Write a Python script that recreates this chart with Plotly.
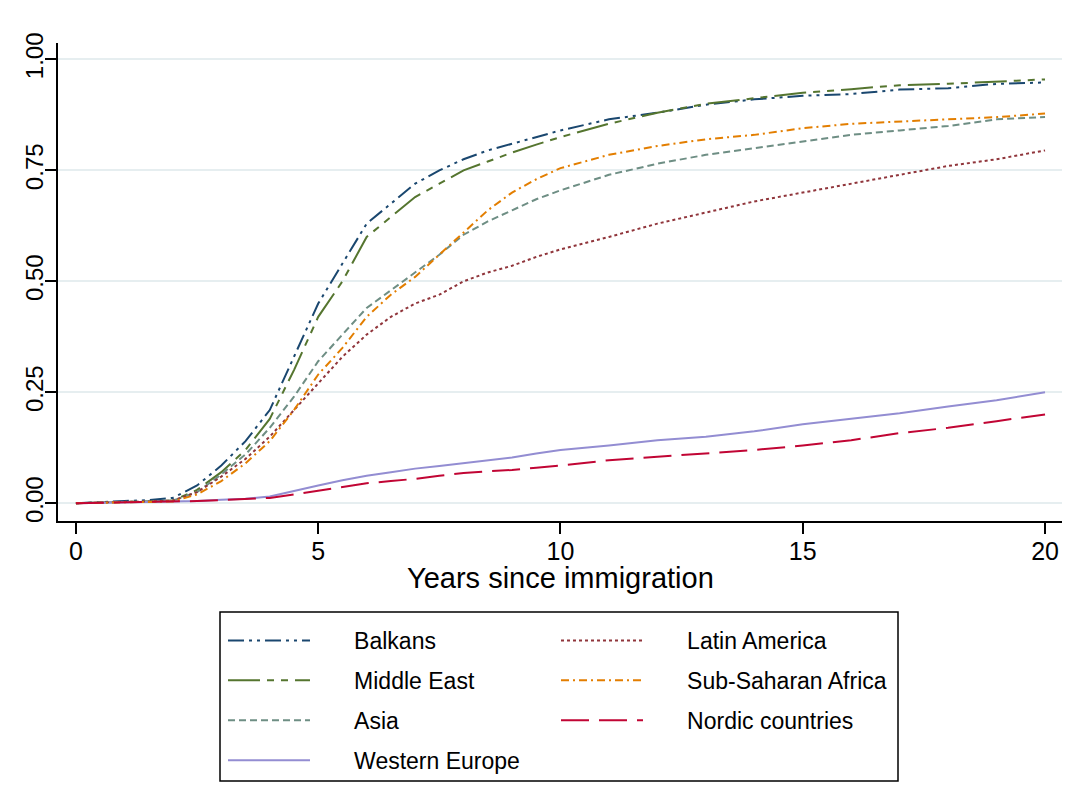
import plotly.graph_objects as go

years = [0, 0.5, 1, 1.5, 2, 2.5, 3, 3.5, 4, 4.5, 5, 5.5, 6, 6.5, 7, 7.5, 8, 8.5, 9, 9.5,
         10, 11, 12, 13, 14, 15, 16, 17, 18, 19, 20]

balkans = [0, 0.003, 0.005, 0.007, 0.012, 0.04, 0.085, 0.14, 0.21, 0.33, 0.45, 0.54, 0.63, 0.675,
           0.72, 0.75, 0.775, 0.795, 0.81, 0.825, 0.84, 0.865, 0.88, 0.898, 0.91, 0.918, 0.922,
           0.932, 0.935, 0.945, 0.948]
middle_east = [0, 0.002, 0.003, 0.004, 0.006, 0.03, 0.07, 0.12, 0.19, 0.30, 0.42, 0.50, 0.60, 0.645,
               0.69, 0.72, 0.75, 0.77, 0.79, 0.808, 0.825, 0.855, 0.88, 0.90, 0.912, 0.925, 0.933,
               0.942, 0.945, 0.95, 0.955]
asia = [0, 0.002, 0.003, 0.004, 0.006, 0.025, 0.065, 0.11, 0.17, 0.24, 0.32, 0.38, 0.44, 0.48,
        0.52, 0.56, 0.605, 0.635, 0.66, 0.685, 0.705, 0.74, 0.765, 0.785, 0.80, 0.815, 0.83,
        0.84, 0.85, 0.865, 0.87]
western_europe = [0, 0.001, 0.002, 0.002, 0.003, 0.005, 0.008, 0.01, 0.015, 0.028, 0.04, 0.052,
                  0.062, 0.07, 0.078, 0.084, 0.09, 0.097, 0.103, 0.112, 0.12, 0.13, 0.142, 0.15,
                  0.162, 0.178, 0.19, 0.203, 0.218, 0.232, 0.25]
latin_america = [0, 0.002, 0.003, 0.004, 0.006, 0.025, 0.06, 0.10, 0.15, 0.21, 0.27, 0.33, 0.38,
                 0.42, 0.45, 0.47, 0.50, 0.52, 0.535, 0.555, 0.572, 0.60, 0.63, 0.655, 0.68, 0.70,
                 0.72, 0.74, 0.76, 0.775, 0.795]
sub_saharan = [0, 0.001, 0.002, 0.003, 0.004, 0.02, 0.05, 0.09, 0.14, 0.21, 0.29, 0.35, 0.42,
               0.47, 0.51, 0.56, 0.61, 0.66, 0.70, 0.73, 0.755, 0.785, 0.805, 0.82, 0.83, 0.845,
               0.855, 0.86, 0.865, 0.87, 0.878]
nordic = [0, 0.001, 0.002, 0.002, 0.003, 0.005, 0.007, 0.009, 0.012, 0.02, 0.028, 0.036, 0.045,
          0.05, 0.055, 0.062, 0.068, 0.072, 0.075, 0.08, 0.085, 0.097, 0.105, 0.112, 0.12, 0.13,
          0.142, 0.158, 0.17, 0.185, 0.20]

y_ticks = [0, 0.25, 0.5, 0.75, 1.0]
y_tick_labels = ["0.00", "0.25", "0.50", "0.75", "1.00"]
x_ticks = [0, 5, 10, 15, 20]

series = [
    # name, values, colour, dash, legend
    ("Balkans", balkans, "#1a476f", "16px,5px,3px,5px,3px,5px", "legend"),
    ("Middle East", middle_east, "#55752f", "32px,7px,7px,7px,7px,7px", "legend"),
    ("Asia", asia, "#6e8e84", "7px,4px", "legend"),
    ("Western Europe", western_europe, "#938dd2", "solid", "legend"),
    ("Latin America", latin_america, "#90353b", "3px,3px", "legend2"),
    ("Sub-Saharan Africa", sub_saharan, "#e37e00", "8px,4px,2px,4px", "legend2"),
    ("Nordic countries", nordic, "#c10534", "28px,10px", "legend2"),
]

PAD = "\u2003\u2002\u2009"  # spacing between legend key and label

fig = go.Figure()
for i, (name, vals, col, dash, leg) in enumerate(series):
    fig.add_trace(go.Scatter(
        x=years, y=vals, mode="lines", name=PAD + name,
        line=dict(color=col, width=2, dash=dash),
        legend=leg, legendgroup=name,
    ))

FONT = "Liberation Sans, Arial, sans-serif"
OFF = 8  # page body offset
W, H = 1079 - OFF, 810 - OFF
L, T = 58 - OFF, 43 - OFF
PR, PB = 1062 - OFF, 521 - OFF
R, B = W - PR, H - PB
pw, ph = W - L - R, H - T - B


def px_x(p):
    return (p - OFF - L) / pw


def px_y(q):
    return (H - B - (q - OFF)) / ph


legend_common = dict(
    xanchor="left", yanchor="top", orientation="v",
    font=dict(family=FONT, size=23, color="black"),
    bgcolor="rgba(0,0,0,0)", borderwidth=0,
    itemwidth=82, tracegroupgap=7, itemclick=False,
)

fig.update_layout(
    width=W, height=H,
    margin=dict(l=L, r=R, t=T, b=B, autoexpand=False),
    paper_bgcolor="white", plot_bgcolor="white",
    font=dict(family=FONT, color="black"),
    legend=dict(x=px_x(223), y=px_y(619), **legend_common),
    legend2=dict(x=px_x(556), y=px_y(619), **legend_common),
    xaxis=dict(
        range=[-0.37, 20.35], tickvals=x_ticks, ticktext=[str(v) for v in x_ticks],
        showgrid=False, zeroline=False, showline=True, linecolor="black", linewidth=1.5,
        ticks="outside", ticklen=11, tickwidth=1.5, tickcolor="black", automargin=False,
        ticklabelstandoff=-4,
        tickfont=dict(family=FONT, size=25, color="black"),
    ),
    yaxis=dict(
        range=[-0.04, 1.037], tickvals=y_ticks, ticktext=y_tick_labels,
        showgrid=True, gridcolor="#e6eef0", gridwidth=1.5, zeroline=False,
        showline=True, linecolor="black", linewidth=1.5, automargin=False,
        ticks="outside", ticklen=11, tickwidth=1.5, tickcolor="black",
        tickangle=-90, ticklabelstandoff=-7,
        tickfont=dict(family=FONT, size=24, color="black"),
    ),
    annotations=[dict(text="Years since immigration", xref="paper", yref="paper",
                      x=0.5, y=px_y(578), xanchor="center", yanchor="middle", showarrow=False,
                      font=dict(family=FONT, size=29, color="black"))],
    shapes=[dict(type="rect", xref="paper", yref="paper",
                 x0=px_x(220), x1=px_x(898), y0=px_y(781), y1=px_y(612),
                 line=dict(color="black", width=1.5), fillcolor="rgba(0,0,0,0)")],
)

fig.write_html("out.html")
